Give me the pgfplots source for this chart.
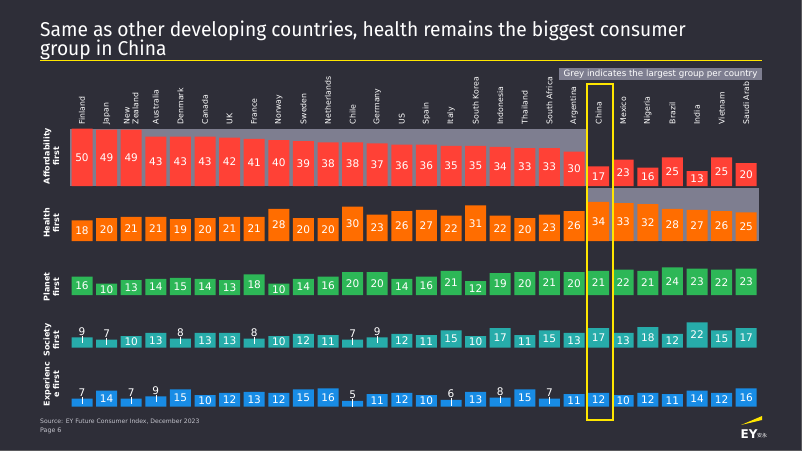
\documentclass[border=0pt]{standalone}
\usepackage{pgfplots}
\pgfplotsset{compat=1.18}
\usepackage{pgfplotstable}
\usepackage{fontspec}
\setmainfont{DejaVu Sans}
\newfontfamily\titlefont{Fira Sans}[FakeStretch=0.96]
\newfontfamily\cjk{Noto Sans CJK SC}
\definecolor{bg}{HTML}{2E2E38}
\definecolor{cred}{HTML}{FF4136}
\definecolor{corange}{HTML}{FF6D00}
\definecolor{cgreen}{HTML}{2DB757}
\definecolor{cteal}{HTML}{27ACAA}
\definecolor{cblue}{HTML}{188CE5}
\definecolor{band}{HTML}{7E7E90}
\definecolor{eyyellow}{HTML}{FFE600}
\definecolor{srcgray}{HTML}{C4C4CD}
\newcommand\lbl{\fontsize{10.5}{12}\selectfont}
\newcommand\cty{\fontsize{7.8}{8.8}\selectfont}

\pgfplotstableread{
i aff hea pla soc exp
0 50 18 16 9 7
1 49 20 10 7 14
2 49 21 13 10 7
3 43 21 14 13 9
4 43 19 15 8 15
5 43 20 14 13 10
6 42 21 13 13 12
7 41 21 18 8 13
8 40 28 10 10 12
9 39 20 14 12 15
10 38 20 16 11 16
11 38 30 20 7 5
12 37 23 20 9 11
13 36 26 14 12 12
14 36 27 16 11 10
15 35 22 21 15 6
16 35 31 12 10 13
17 34 22 19 17 8
18 33 20 20 11 15
19 33 23 21 15 7
20 30 26 20 13 11
21 17 34 21 17 12
22 23 33 22 13 10
23 16 32 21 18 12
24 25 28 24 12 11
25 13 27 23 22 14
26 25 26 22 15 12
27 20 25 23 17 16
}\data

\pgfplotsset{
  rowaxis/.style={scale only axis, width=688.8pt, height=57.5pt,
    xmin=-0.5, xmax=27.5, ymin=0, ymax=50, clip=false, anchor=south west,
    /pgf/number format/assume math mode=true},
}

% #1 column, #2 colour
\newcommand\rowplots[2]{%
  \addplot[ybar, bar width=21pt, fill=#2, draw=none] table[x=i,y=#1]{\data};
  \addplot[draw=none, mark=none, nodes near coords, point meta=explicit,
    y filter/.expression={y<5 ? nan : y},
    every node near coord/.style={anchor=center, text=white, font=\lbl, inner sep=0pt}]
    table[x=i, y expr=\thisrow{#1}/2, meta=#1]{\data};
  \addplot[draw=none, mark=none, nodes near coords, point meta=explicit,
    y filter/.expression={y<10 ? y : nan},
    every node near coord/.style={anchor=south, text=white, font=\lbl, inner sep=0pt, yshift=2pt}]
    table[x=i, y=#1, meta=#1]{\data};
  \addplot[draw=none, mark=none,
    y filter/.expression={y<11.5 ? y : nan},
    error bars/.cd, y dir=minus, y fixed=6.5, error mark=none,
    error bar style={draw=white, line width=0.5pt}]
    table[x=i, y expr=\thisrow{#1}+1.5]{\data};
}

\begin{document}
\begin{tikzpicture}
\fill[bg] (0pt,0pt) rectangle (802pt,-451pt);
\useasboundingbox (0pt,0pt) rectangle (802pt,-451pt);
\fill[gray!55!bg] (800.5pt,0pt) rectangle (802pt,-451pt);
\fill[gray!55!bg] (0pt,-449.5pt) rectangle (802pt,-451pt);

% title
\node[anchor=base west, text=white, inner sep=0pt, font=\titlefont\fontsize{20}{20}\selectfont] at (40pt,-36pt) {Same as other developing countries, health remains the biggest consumer};
\node[anchor=base west, text=white, inner sep=0pt, font=\titlefont\fontsize{20}{20}\selectfont] at (40pt,-55pt) {group in China};
\draw[eyyellow, line width=1.5pt] (40pt,-60.5pt) -- (762pt,-60.5pt);

% legend note
\fill[band] (559pt,-68pt) rectangle (762pt,-80pt);
\node[text=white, inner sep=0pt, font=\fontsize{8.7}{9}\selectfont] at (660.5pt,-74pt) {Grey indicates the largest group per country};

% Affordability row with country labels
\begin{axis}[rowaxis, at={(69.7pt,-186pt)},
  axis line style={draw=none}, major tick length=0pt, ytick=\empty,
  xtick={0,...,27}, xticklabel pos=upper,
  xticklabels={Finland,Japan,{New\\Zealand},Australia,Denmark,Canada,UK,France,Norway,Sweden,Netherlands,Chile,Germany,US,Spain,Italy,South Korea,Indonesia,Thailand,South Africa,Argentina,China,Mexico,Nigeria,Brazil,India,Vietnam,Saudi Arab},
  xticklabel style={rotate=90, anchor=west, align=left, font=\cty, text=white, inner sep=0pt, inner xsep=4pt}]
  \fill[band] (axis cs:-0.5,0) rectangle (axis cs:20.5,50);
  \rowplots{aff}{cred}
\end{axis}

\begin{axis}[rowaxis, hide axis, at={(69.7pt,-241pt)}]
  \fill[band] (axis cs:20.5,0) rectangle (axis cs:27.5,46);
  \rowplots{hea}{corange}
\end{axis}

\begin{axis}[rowaxis, hide axis, at={(69.7pt,-295pt)}]
  \rowplots{pla}{cgreen}
\end{axis}

\begin{axis}[rowaxis, hide axis, at={(69.7pt,-347.7pt)}]
  \rowplots{soc}{cteal}
\end{axis}

\begin{axis}[rowaxis, hide axis, at={(69.7pt,-406.7pt)}]
  \rowplots{exp}{cblue}
\end{axis}

% row labels
\tikzset{rowlab/.style={rotate=90, align=center, text=white, font=\bfseries\fontsize{8}{9.5}\selectfont, inner sep=0pt}}
\node[rowlab] at (51.5pt,-156pt) {Affordability\\first};
\node[rowlab] at (51.5pt,-223pt) {Health\\first};
\node[rowlab] at (51.5pt,-287pt) {Planet\\first};
\node[rowlab] at (51.5pt,-340pt) {Society\\first};
\node[rowlab] at (51.5pt,-384pt) {Experienc\\e first};

% China highlight
\draw[eyyellow, line width=2pt] (586.5pt,-84pt) rectangle (612.5pt,-420pt);

% source
\node[anchor=west, text=srcgray, inner sep=0pt, font=\fontsize{6.1}{7}\selectfont] at (40pt,-421.5pt) {Source: EY Future Consumer Index, December 2023};
\node[anchor=west, text=srcgray, inner sep=0pt, font=\fontsize{6.3}{7}\selectfont] at (40pt,-431pt) {Page 6};

% logo
\fill[eyyellow] (741pt,-425pt) -- (762pt,-416pt) -- (762pt,-420pt) -- cycle;
\node[anchor=base west, text=white, inner sep=0pt, font=\bfseries\fontsize{12}{12}\selectfont] at (740.5pt,-438pt) {EY};
\node[anchor=base west, text=white, inner sep=0pt, font=\cjk\fontsize{5}{5}\selectfont] at (757pt,-437.5pt) {安永};
\end{tikzpicture}
\end{document}
